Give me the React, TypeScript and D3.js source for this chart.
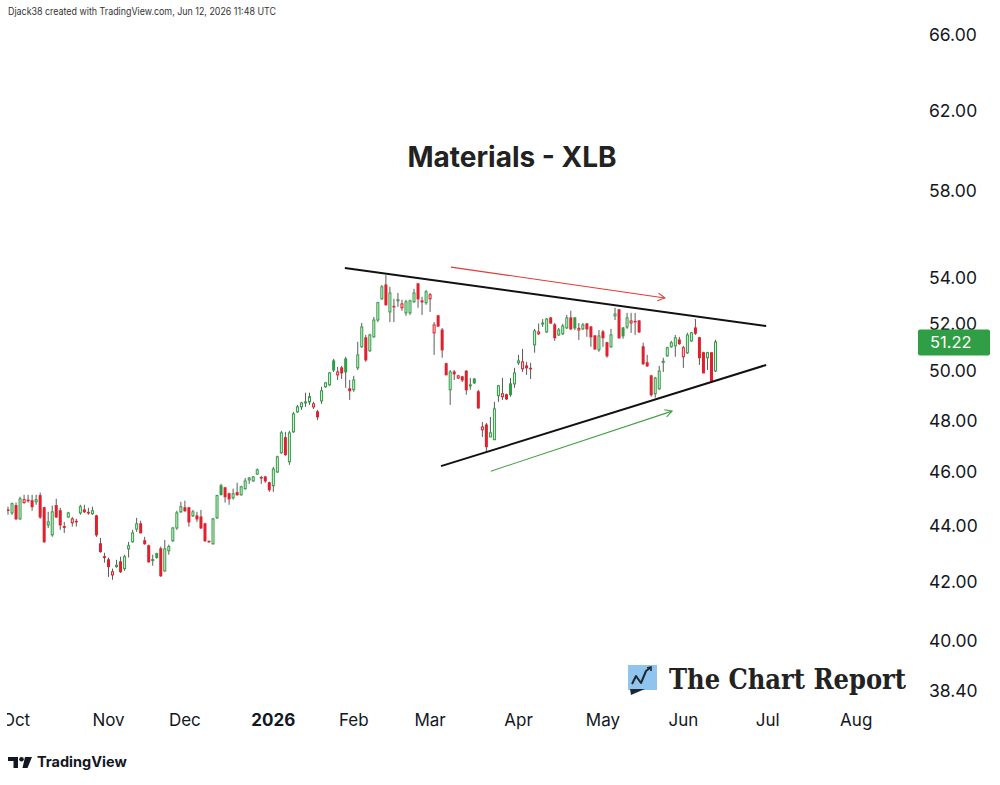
import * as d3 from "d3";

// daily sessions from Sep 29 2025 to Jun 11 2026: open, high, low, close
const candles: [number, number, number, number][] = [
  [44.59, 44.71, 44.41, 44.58], [44.48, 44.86, 44.41, 44.82], [44.75, 44.86, 44.23, 44.26], [44.26, 45.08, 44.23, 45.0],
  [44.86, 45.15, 44.82, 44.97], [44.95, 45.15, 44.86, 44.93], [44.93, 45.15, 44.56, 44.71], [44.89, 45.15, 44.78, 44.97],
  [45.12, 45.23, 44.26, 44.33], [44.67, 44.71, 43.4, 43.43], [44.04, 44.52, 43.93, 44.15], [43.68, 44.75, 43.61, 44.52],
  [44.75, 45.0, 44.3, 44.33], [44.56, 44.67, 43.86, 44.04], [43.98, 44.15, 43.75, 43.95], [44.33, 44.52, 44.3, 44.48],
  [44.12, 44.33, 43.98, 44.26], [44.17, 44.26, 43.98, 44.15], [44.48, 44.78, 44.41, 44.71], [44.59, 44.78, 44.48, 44.52],
  [44.5, 44.67, 44.41, 44.48], [44.45, 44.71, 44.41, 44.56], [44.37, 44.41, 43.61, 43.68], [43.36, 43.57, 43.04, 43.08],
  [42.9, 43.04, 42.69, 42.87], [42.79, 42.87, 42.19, 42.55], [42.26, 42.48, 42.09, 42.37], [42.55, 42.79, 42.51, 42.6],
  [42.72, 42.9, 42.33, 42.37], [42.48, 42.97, 42.4, 42.9], [43.18, 43.43, 42.87, 43.29], [43.43, 43.86, 43.4, 43.75],
  [43.89, 44.3, 43.79, 44.08], [44.08, 44.19, 43.75, 43.75], [43.47, 43.61, 43.33, 43.36], [43.29, 43.33, 42.69, 42.72],
  [42.77, 42.97, 42.58, 42.8], [43.01, 43.04, 42.83, 42.87], [43.18, 43.26, 42.19, 42.23], [42.4, 43.5, 42.37, 43.18],
  [43.11, 43.33, 42.97, 43.26], [43.47, 43.96, 43.43, 43.93], [43.93, 44.56, 43.86, 44.48], [44.52, 44.89, 44.48, 44.71],
  [44.67, 44.93, 44.52, 44.56], [44.67, 44.67, 43.98, 44.15], [44.37, 44.59, 44.33, 44.52], [44.37, 44.52, 44.15, 44.26],
  [44.33, 44.59, 43.89, 43.93], [44.08, 44.12, 43.43, 43.47], [43.45, 43.47, 43.4, 43.43], [43.36, 44.3, 43.33, 44.26],
  [44.3, 45.15, 44.26, 45.12], [45.49, 45.56, 45.12, 45.16], [45.41, 45.45, 44.86, 45.08], [45.19, 45.23, 44.78, 45.0],
  [45.04, 45.38, 44.97, 45.19], [45.23, 45.6, 45.12, 45.15], [45.15, 45.49, 45.12, 45.45], [45.38, 45.78, 45.34, 45.67],
  [45.71, 45.82, 45.56, 45.78], [45.67, 45.86, 45.64, 45.82], [45.93, 46.14, 45.9, 46.09], [45.8, 45.86, 45.56, 45.78],
  [45.82, 45.86, 45.6, 45.67], [45.6, 45.64, 45.26, 45.34], [45.49, 46.2, 45.26, 46.12], [46.01, 46.63, 45.97, 46.59],
  [46.74, 47.6, 46.71, 47.52], [47.33, 47.56, 46.63, 46.67], [46.4, 47.6, 46.28, 47.52], [47.56, 48.35, 47.52, 48.27],
  [48.35, 48.63, 48.31, 48.55], [48.55, 48.75, 48.43, 48.71], [48.73, 49.12, 48.55, 48.75], [48.75, 49.12, 48.63, 48.96],
  [48.55, 48.75, 48.47, 48.67], [48.35, 48.43, 48.02, 48.15], [48.79, 49.36, 48.67, 49.2], [49.36, 49.56, 49.32, 49.52],
  [49.44, 49.97, 49.4, 49.93], [50.43, 50.51, 49.97, 50.05], [49.85, 50.18, 49.64, 49.97], [50.14, 50.22, 49.68, 49.93],
  [50.51, 50.6, 49.32, 49.97], [49.28, 49.64, 48.83, 49.2], [49.24, 49.81, 49.16, 49.64], [50.14, 51.23, 50.05, 50.68],
  [51.02, 52.03, 50.98, 51.86], [51.4, 51.52, 50.39, 50.47], [50.85, 51.57, 50.81, 51.52], [51.44, 52.29, 51.4, 52.16],
  [52.16, 52.95, 52.07, 52.91], [53.08, 53.69, 53.04, 53.61], [53.69, 54.13, 52.78, 52.82], [52.51, 53.61, 52.07, 53.34],
  [52.75, 53.08, 52.07, 52.73], [53.02, 53.34, 52.73, 53.04], [52.69, 53.04, 52.56, 52.86], [52.47, 53.04, 52.34, 52.95],
  [52.47, 53.04, 52.38, 52.99], [52.95, 53.52, 52.91, 53.34], [53.74, 53.78, 52.69, 53.08], [52.95, 53.17, 52.38, 52.99],
  [52.91, 53.47, 52.82, 53.39], [53.08, 53.34, 52.51, 53.26], [51.61, 52.07, 50.68, 51.95], [52.34, 52.38, 51.86, 51.9],
  [51.73, 51.82, 50.56, 50.89], [50.31, 50.35, 49.85, 49.85], [49.24, 50.05, 48.63, 49.97], [49.97, 50.05, 49.64, 49.89],
  [49.72, 49.85, 49.68, 49.81], [49.77, 49.81, 49.56, 49.64], [50.0, 50.05, 49.04, 49.24], [49.42, 49.72, 49.24, 49.44],
  [49.68, 49.72, 49.48, 49.52], [49.16, 49.24, 48.47, 48.51], [47.64, 47.95, 47.36, 47.75], [47.83, 47.91, 46.78, 46.98],
  [47.36, 48.15, 47.36, 47.52], [47.25, 48.75, 47.25, 48.47], [49.0, 49.44, 48.75, 49.4], [48.96, 49.72, 48.83, 49.08],
  [49.04, 49.08, 48.83, 48.87], [49.48, 49.72, 48.96, 49.04], [49.48, 50.14, 49.32, 49.93], [50.35, 50.68, 50.26, 50.43],
  [50.1, 50.93, 49.97, 50.39], [50.22, 50.39, 49.85, 50.14], [50.12, 50.35, 49.68, 50.1], [51.1, 51.78, 50.77, 51.69],
  [51.57, 52.01, 51.52, 51.65], [52.01, 52.2, 51.86, 52.03], [51.65, 52.25, 51.61, 52.2], [52.25, 52.29, 51.99, 52.03],
  [51.95, 52.03, 51.27, 51.4], [51.52, 51.82, 51.48, 51.73], [51.57, 51.99, 51.52, 51.9], [51.82, 52.38, 51.78, 52.25],
  [52.25, 52.56, 51.73, 51.78], [52.25, 52.29, 51.73, 51.82], [51.73, 52.03, 51.31, 51.8], [51.78, 52.03, 51.73, 51.95],
  [51.99, 52.03, 51.44, 51.78], [51.86, 51.9, 51.02, 51.44], [51.48, 51.52, 50.89, 50.93], [50.89, 51.73, 50.81, 51.48],
  [51.65, 51.73, 51.02, 51.4], [51.19, 51.23, 50.56, 50.64], [51.02, 51.78, 50.98, 51.52], [52.34, 52.69, 52.16, 52.42],
  [52.6, 52.64, 51.36, 51.4], [51.82, 51.86, 51.36, 51.48], [51.86, 52.47, 51.78, 52.25], [52.03, 52.47, 51.61, 52.12],
  [52.1, 52.47, 51.52, 52.08], [52.12, 52.16, 51.61, 51.65], [51.02, 51.19, 50.26, 50.31], [50.35, 50.68, 50.18, 50.22],
  [49.81, 49.85, 48.96, 49.04], [49.08, 49.77, 48.92, 49.72], [49.28, 50.22, 49.24, 50.01], [50.37, 50.56, 49.97, 50.41],
  [50.64, 51.02, 50.6, 50.98], [51.02, 51.27, 50.98, 51.19], [51.06, 51.52, 50.6, 51.4], [51.31, 51.44, 51.1, 51.15],
  [50.6, 51.06, 50.14, 50.98], [50.77, 51.61, 50.72, 51.52], [51.27, 51.65, 51.23, 51.61], [51.82, 52.2, 51.52, 51.59],
  [51.4, 51.44, 50.26, 50.56], [50.77, 50.81, 49.93, 49.93], [50.56, 50.81, 50.05, 50.77], [50.77, 50.77, 49.56, 49.6],
  [50.01, 51.31, 49.97, 51.22],
];

// first bar of each month (bar index)
const months = [
  { label: "Oct", bar: 2 }, { label: "Nov", bar: 25 }, { label: "Dec", bar: 44 },
  { label: "2026", bar: 66, bold: true }, { label: "Feb", bar: 86 }, { label: "Mar", bar: 105 },
  { label: "Apr", bar: 127 }, { label: "May", bar: 148 }, { label: "Jun", bar: 168 },
  { label: "Jul", bar: 189 }, { label: "Aug", bar: 211 },
];
const priceTicks = [66, 62, 58, 54, 52, 50, 48, 46, 44, 42, 40, 38.4];

// drawn lines: [bar, price] pairs
const upperLine: [number, number][] = [[83.8, 54.45], [188.6, 51.9]];
const lowerLine: [number, number][] = [[107.7, 46.23], [188.6, 50.26]];
const redArrow: [number, number][] = [[110.2, 54.49], [163.4, 53.12]];
const greenArrow: [number, number][] = [[120.1, 46.04], [165.2, 48.38]];

const GREEN = "#2f9e44";
const RED = "#e0202e";
const WICK = "#5a5a5a";
const FONT = "Inter, Roboto, sans-serif";

const x = d3.scaleLinear().domain([0, 100]).range([8, 410]);
const y = d3.scaleLog().domain([38.4, 66]).range([690.9, 35]);
const line = d3.line<[number, number]>().x((d) => x(d[0])).y((d) => y(d[1]));

function Arrow({ pts, color }: { pts: [number, number][]; color: string }) {
  const [x1, y1] = [x(pts[0][0]), y(pts[0][1])];
  const [x2, y2] = [x(pts[1][0]), y(pts[1][1])];
  const a = Math.atan2(y2 - y1, x2 - x1);
  const len = 8;
  const h1 = [x2 - len * Math.cos(a - 0.5), y2 - len * Math.sin(a - 0.5)];
  const h2 = [x2 - len * Math.cos(a + 0.5), y2 - len * Math.sin(a + 0.5)];
  return (
    <g stroke={color} strokeWidth={1.1} fill="none">
      <path d={line(pts) || ""} />
      <path d={`M${h1[0]},${h1[1]}L${x2},${y2}L${h2[0]},${h2[1]}`} />
    </g>
  );
}

export default function App() {
  const last = candles[candles.length - 1][3];
  return (
    <svg width={1000} height={785} style={{ position: "absolute", left: 0, top: 0, background: "#fff" }}>
      <defs>
        <clipPath id="plot">
          <rect x={7} y={22} width={903} height={683} />
        </clipPath>
        <clipPath id="taxis">
          <rect x={7} y={705} width={903} height={35} />
        </clipPath>
      </defs>
      <rect width={1000} height={785} fill="#fff" />

      <text x={8} y={15} fontFamily={FONT} fontSize={10} fill="#333" textLength={268} lengthAdjust="spacingAndGlyphs">
        Djack38 created with TradingView.com, Jun 12, 2026 11:48 UTC
      </text>

      <text x={512} y={167} textAnchor="middle" fontFamily={FONT} fontWeight={700} fontSize={28} fill="#222">
        Materials - XLB
      </text>

      <g clipPath="url(#plot)">
        {candles.map(([o, h, l, c], i) => {
          const prev = i > 0 ? candles[i - 1][3] : o;
          const up = c >= prev;
          const color = up ? GREEN : RED;
          const hollow = c >= o;
          const cx = x(i);
          const top = y(Math.max(o, c));
          const bot = y(Math.min(o, c));
          return (
            <g key={i}>
              <line x1={cx} x2={cx} y1={y(h)} y2={y(l)} stroke={WICK} strokeWidth={1} />
              {hollow ? (
                <rect x={cx - 1} y={top} width={2} height={Math.max(bot - top, 1)}
                  fill={up ? "#dcf0dd" : "#fcdde0"} stroke={color} strokeWidth={1} />
              ) : (
                <rect x={cx - 1.5} y={top - 0.5} width={3} height={Math.max(bot - top + 1, 1.5)} fill={color} />
              )}
            </g>
          );
        })}
        <path d={line(upperLine) || ""} stroke="#111" strokeWidth={2} fill="none" />
        <path d={line(lowerLine) || ""} stroke="#111" strokeWidth={2} fill="none" />
        <Arrow pts={redArrow} color="#e53935" />
        <Arrow pts={greenArrow} color="#43a047" />
      </g>

      {priceTicks.map((t) => (
        <text key={t} x={929} y={y(t)} dy="0.34em" fontFamily={FONT} fontSize={17.5} fill="#131722">
          {t.toFixed(2)}
        </text>
      ))}
      <rect x={918} y={y(last) - 12.5} width={72} height={26} rx={2} fill={GREEN} />
      <text x={930} y={y(last) + 0.5} dy="0.36em" fontFamily={FONT} fontSize={16.5} fill="#fff">
        {last.toFixed(2)}
      </text>

      <g clipPath="url(#taxis)">
        {months.map((m) => (
          <text key={m.label} x={x(m.bar)} y={726} textAnchor="middle" fontFamily={FONT}
            fontSize={17} fontWeight={m.bold ? 700 : 400} fill="#131722">
            {m.label}
          </text>
        ))}
      </g>

      {/* The Chart Report logo */}
      <g>
        <rect x={628} y={665} width={29} height={25} fill="#8fc4ee" />
        <path d="M630,689 L645,689 L631,695 Z" fill="#1d2733" />
        <polyline points="632,684 636,676 641,683 646,671 650,668" fill="none" stroke="#1d2733" strokeWidth={2} strokeLinejoin="round" />
        <polyline points="647,668 651,667 651,671" fill="none" stroke="#1d2733" strokeWidth={1.6} />
        <text x={669} y={689} fontFamily="'DejaVu Serif', serif" fontWeight={700} fontSize={27} fill="#222"
          textLength={237} lengthAdjust="spacingAndGlyphs">
          The Chart Report
        </text>
      </g>

      {/* TradingView logo */}
      <g fill="#131722">
        <path d="M8,757 H18 V768 H13.5 V761 H8 Z" />
        <circle cx={21.5} cy={759.3} r={2.3} />
        <path d="M25,757 H32 L27.5,768 H22.5 Z" />
        <text x={37} y={767} fontFamily={FONT} fontWeight={700} fontSize={14.5}>TradingView</text>
      </g>
    </svg>
  );
}
